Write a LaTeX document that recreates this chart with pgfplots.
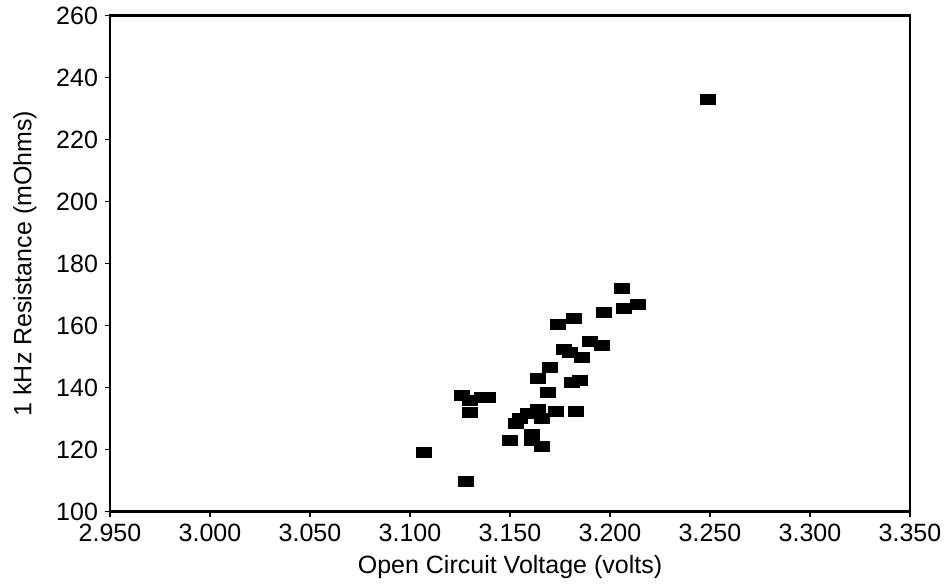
\documentclass[border=0pt]{standalone}
\usepackage{pgfplots}
\pgfplotsset{compat=1.18}
\usepackage{fontspec}
\setmainfont{Liberation Sans}

\begin{document}
\begin{tikzpicture}
\begin{axis}[
    name=ax,
    scale only axis,
    width=400pt, height=248pt,
    xmin=2.95, xmax=3.35,
    ymin=100, ymax=260,
    xtick={2.95,3.00,...,3.35},
    ytick={100,120,...,260},
    xticklabel style={/pgf/number format/.cd, fixed, fixed zerofill, precision=3},
    yticklabel style={/pgf/number format/.cd, fixed, precision=0},
    /pgf/number format/assume math mode=true,
    tick align=outside,
    xtick pos=bottom, ytick pos=left,
    major tick length=2.5pt,
    tick style={line width=0.8pt, black},
    axis line style={line width=1.1pt},
    ticklabel style={font=\fontsize{12.5}{14}\selectfont},
    label style={font=\fontsize{12.5}{14}\selectfont},
    xlabel={Open Circuit Voltage (volts)},
    ylabel={1 kHz Resistance (mOhms)},
    ylabel shift=3pt,
    clip=false,
]
\addplot[only marks, mark=square*, mark size=2.5pt,
    mark options={xscale=1.5, fill=black, draw=black}]
coordinates {
(3.249,233.1) (3.206,172.1) (3.197,164.2) (3.207,165.4) (3.214,166.7)
(3.182,162.3) (3.174,160.2) (3.190,155.0) (3.196,153.7) (3.177,152.3)
(3.180,151.2) (3.186,149.6) (3.170,146.4) (3.164,142.9) (3.181,141.6)
(3.185,142.3) (3.169,138.5) (3.126,137.4) (3.139,136.7) (3.130,135.8)
(3.130,132.0) (3.136,136.9) (3.164,133.1) (3.173,132.2) (3.183,132.2)
(3.159,131.7) (3.155,130.2) (3.166,129.9) (3.153,128.5) (3.150,122.8)
(3.161,125.0) (3.161,122.8) (3.166,120.9) (3.107,119.1) (3.128,109.8)
};
\end{axis}
\path ([shift={(-55pt,-35pt)}]ax.south west) rectangle ([shift={(21pt,5pt)}]ax.north east);
\end{tikzpicture}
\end{document}
